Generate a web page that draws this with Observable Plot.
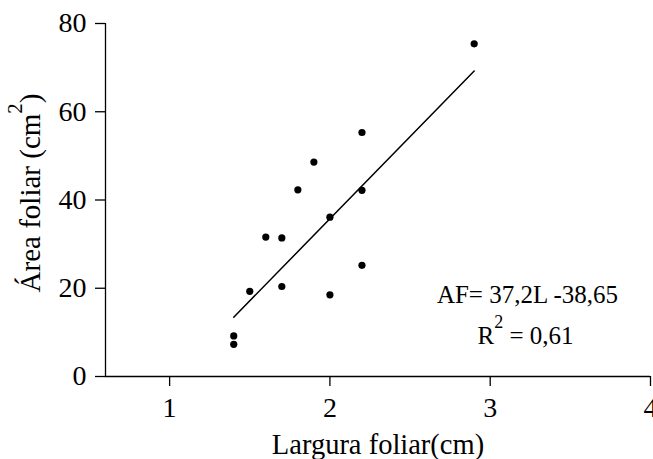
<!DOCTYPE html>
<html><head><meta charset="utf-8">
<script src="https://cdn.jsdelivr.net/npm/d3@7"></script>
<script src="https://cdn.jsdelivr.net/npm/@observablehq/plot@0.6"></script>
<style>
body{margin:0;background:#fff}
svg, svg text{font-family:"Liberation Serif","Times New Roman",serif !important}
</style>
</head><body><div id="chart"></div>
<script>
// Data
const larguraFoliar = [1.4, 1.4, 1.5, 1.6, 1.7, 1.7, 1.8, 1.9, 2.0, 2.0, 2.2, 2.2, 2.2, 2.9];
const areaFoliar    = [9.2, 7.3, 19.3, 31.6, 31.4, 20.4, 42.3, 48.6, 36.1, 18.5, 55.3, 42.2, 25.2, 75.4];
const xTicks = [1, 2, 3, 4];
const yTicks = [0, 20, 40, 60, 80];
const xDomain = [0.6, 4];
const yDomain = [0, 80];
const slope = 37.2, intercept = -38.65;
const equationText = "AF= 37,2L -38,65";
const r2Text = "R² = 0,61";
const xTitle = "Largura foliar(cm)";
const yTitle = "Área foliar (cm²)";

const points = larguraFoliar.map((x, i) => ({x, y: areaFoliar[i]}));
const fit = d3.extent(larguraFoliar).map(x => ({x, y: slope * x + intercept}));
const serif = '"Liberation Serif","Times New Roman",serif';

const plot = Plot.plot({
  width: 653, height: 459,
  marginLeft: 105, marginRight: 3, marginTop: 23, marginBottom: 83,
  style: {fontFamily: serif, color: "#000", background: "#fff", overflow: "visible"},
  x: {domain: xDomain},
  y: {domain: yDomain},
  marks: [
    Plot.axisX({ticks: xTicks, tickFormat: d => String(d), tickSize: 10, tickPadding: 11, fontSize: 28, fontFamily: serif, label: null, strokeWidth: 1.3}),
    Plot.axisY({ticks: yTicks, tickFormat: d => String(d), tickSize: 10, tickPadding: 9, fontSize: 28, fontFamily: serif, label: null, strokeWidth: 1.3}),
    Plot.ruleY([yDomain[0]], {strokeWidth: 1.3}),
    Plot.ruleX([xDomain[0]], {strokeWidth: 1.3}),
    Plot.line(fit, {x: "x", y: "y", strokeWidth: 1.5, stroke: "#000"}),
    Plot.dot(points, {x: "x", y: "y", r: 3.6, fill: "#000", stroke: "none"}),
    Plot.text([xTitle], {text: d => d, frameAnchor: "bottom", lineAnchor: "bottom", dy: 77, fontSize: 28.5, fontFamily: serif}),
    Plot.text([yTitle], {text: d => d, frameAnchor: "left", rotate: -90, textAnchor: "middle", lineAnchor: "bottom", dx: -66, dy: -7, fontSize: 29, fontFamily: serif}),
    Plot.text([equationText], {text: d => d, frameAnchor: "bottom-right", textAnchor: "middle", lineAnchor: "bottom", dx: -123, dy: -74, fontSize: 25, fontFamily: serif}),
    Plot.text([r2Text], {text: d => d, frameAnchor: "bottom-right", textAnchor: "middle", lineAnchor: "bottom", dx: -125, dy: -33, fontSize: 25, fontFamily: serif})
  ]
});
document.getElementById("chart").appendChild(plot);

// Render "²" as a raised superscript
const NS = "http://www.w3.org/2000/svg";
plot.querySelectorAll("text").forEach(t => {
  const s = t.textContent;
  if (!s.includes("²")) return;
  const fs = parseFloat(getComputedStyle(t).fontSize);
  const [a, b] = s.split("²");
  t.textContent = "";
  const t1 = document.createElementNS(NS, "tspan"); t1.textContent = a;
  const t2 = document.createElementNS(NS, "tspan"); t2.textContent = "2";
  t2.setAttribute("font-size", (fs * 0.72).toFixed(1));
  t2.setAttribute("dy", (-fs * 0.62).toFixed(1));
  const t3 = document.createElementNS(NS, "tspan"); t3.textContent = b;
  t3.setAttribute("dy", (fs * 0.62).toFixed(1));
  t.append(t1, t2, t3);
});
</script>
</body></html>
